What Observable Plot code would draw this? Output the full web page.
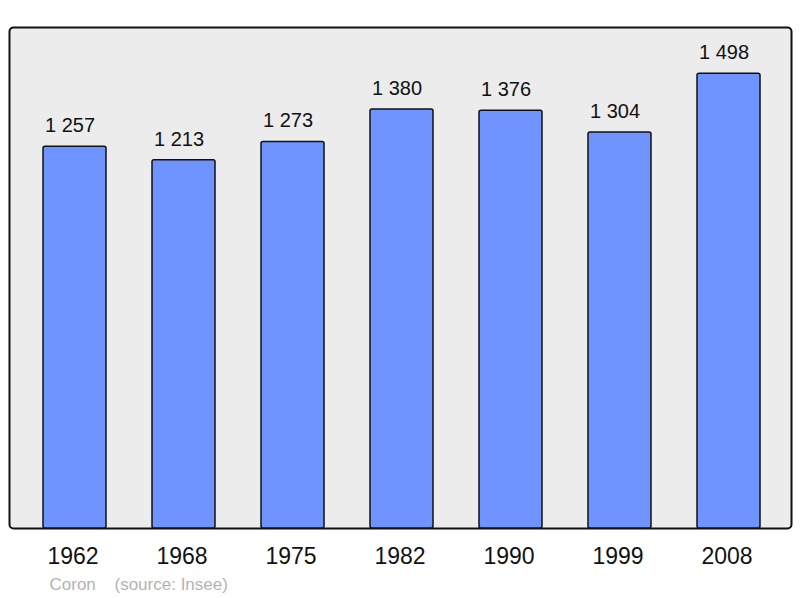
<!DOCTYPE html>
<html>
<head>
<meta charset="utf-8">
<script src="https://cdn.jsdelivr.net/npm/d3@7"></script>
<script src="https://cdn.jsdelivr.net/npm/@observablehq/plot@0.6"></script>
<style>
  html, body { margin: 0; padding: 0; background: #fff; }
  svg { font-family: "Liberation Sans", Arial, sans-serif; }
</style>
</head>
<body>
<div id="chart"></div>
<script>
const years = ["1962", "1968", "1975", "1982", "1990", "1999", "2008"];
const population = [1257, 1213, 1273, 1380, 1376, 1304, 1498];
const placeName = "Coron";
const sourceText = "(source: Insee)";

const fmt = d3.formatLocale({thousands: " ", grouping: [3], decimal: ",", currency: ["", ""]}).format(",");
const data = years.map((y, i) => ({year: y, value: population[i]}));

const chart = Plot.plot({
  width: 800,
  height: 598,
  marginTop: 27,
  marginBottom: 70,
  marginLeft: 9,
  marginRight: 9,
  style: {fontFamily: "'Liberation Sans', Arial, sans-serif", background: "#fff"},
  x: {domain: years, range: [41.5, 761], paddingInner: 0.424, paddingOuter: 0, axis: null},
  y: {domain: [0, 1650], axis: null},
  marks: [
    Plot.frame({fill: "#ececec", stroke: "#111", strokeWidth: 2, rx: 4}),
    Plot.barY(data, {x: "year", y: "value", fill: "#7094ff", stroke: "#111", strokeWidth: 1.5, rx: 2}),
    Plot.text(data, {x: "year", y: "value", text: d => fmt(d.value), dx: -5, dy: -21, fontSize: 20, fill: "#111", lineAnchor: "middle"}),
    Plot.text(data, {x: "year", text: "year", frameAnchor: "bottom", dx: -2, dy: 28, fontSize: 23, fill: "#111", lineAnchor: "middle"}),
    Plot.text([placeName], {frameAnchor: "bottom-left", dx: 40, dy: 56, fontSize: 17, fill: "#b3b3b3", textAnchor: "start", lineAnchor: "middle"}),
    Plot.text([sourceText], {frameAnchor: "bottom-left", dx: 105, dy: 56, fontSize: 17, fill: "#b3b3b3", textAnchor: "start", lineAnchor: "middle"})
  ]
});
document.getElementById("chart").appendChild(chart);
</script>
</body>
</html>
